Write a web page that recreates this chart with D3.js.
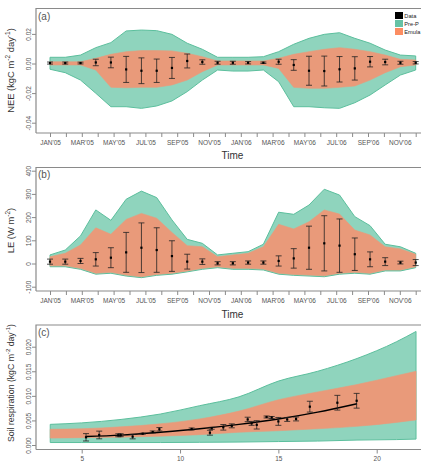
<!DOCTYPE html>
<html><head><meta charset="utf-8">
<script src="https://cdn.jsdelivr.net/npm/d3@7"></script>
<style>
html,body{margin:0;padding:0;background:#fff;}
svg{display:block;font-family:"Liberation Sans",Arial,sans-serif;}
</style></head>
<body>
<svg id="c" width="421" height="465"></svg>
<script>
// ---------- DATA ----------
// month tick labels (Jan'05 .. Dec'06)
const monthTicks = ["JAN'05","","MAR'05","","MAY'05","","JUL'05","","SEP'05","","NOV'05","",
                    "JAN'06","","MAR'06","","MAY'06","","JUL'06","","SEP'06","","NOV'06",""];
// observation times, in months since Jan'05
const obsTime = [0,0.96,1.92,2.88,3.83,4.79,5.75,6.71,7.67,8.63,9.58,10.54,11.5,12.46,13.42,14.38,15.33,16.29,17.25,18.21,19.17,20.13,21.08,22.04,23.0];

// (a) NEE
const neeObs = [0.0003,0.0003,0.0003,0.0007,0.0007,-0.004,-0.0049,-0.0049,-0.003,0.0017,0.001,0.0005,0.0005,0.0005,0.0005,0.0012,-0.001,-0.0049,-0.0051,-0.0039,-0.0033,0.0012,0.001,0.0005,0.0005];
const neeErr = [0.0007,0.0007,0.0006,0.0022,0.0036,0.0088,0.0087,0.0079,0.0071,0.0047,0.0015,0.001,0.001,0.0008,0.0005,0.0017,0.0036,0.0098,0.0101,0.0086,0.0079,0.0035,0.0019,0.001,0.0008];
const neePreHi = [0.0042,0.0042,0.0057,0.0107,0.0141,0.022,0.0226,0.0222,0.0197,0.0137,0.0096,0.0042,0.0042,0.0042,0.0046,0.008,0.013,0.017,0.0197,0.0208,0.017,0.0137,0.0091,0.0057,0.0051];
const neePreLo = [-0.0039,-0.0062,-0.0112,-0.0201,-0.0292,-0.0292,-0.0303,-0.0287,-0.0253,-0.019,-0.0112,-0.0044,-0.0051,-0.0051,-0.0044,-0.0123,-0.0292,-0.0292,-0.0299,-0.0303,-0.0265,-0.0213,-0.0145,-0.0078,-0.0044];
const neeEmuHi = [0.0012,0.0012,0.0012,0.0035,0.0062,0.008,0.0087,0.0087,0.0085,0.0069,0.0046,0.0017,0.0017,0.0017,0.0017,0.0035,0.0062,0.008,0.0096,0.0107,0.0096,0.008,0.0057,0.0028,0.0024];
const neeEmuLo = [-0.001,-0.001,-0.001,-0.0044,-0.0161,-0.0164,-0.0161,-0.0161,-0.0145,-0.0112,-0.0055,-0.001,-0.001,-0.001,-0.001,-0.0033,-0.0161,-0.0168,-0.0168,-0.0161,-0.0152,-0.0112,-0.0062,-0.0022,-0.001];
const neeYTicks = [-0.04,-0.02,0,0.02];
const neeYLabels = ["-0.04","-0.02","0.00","0.02"];

// (b) LE
const leObs = [8,8,11,18,25,48,68,58,32,8,8,1,1,4,4,11,22,68,87,77,40,18,8,4,4];
const leErr = [11,11,11,29,43,86,107,96,66,32,12,7,7,7,7,22,42,93,119,115,70,32,17,6,13];
const lePreHi = [37,58,119,231,186,277,312,284,188,104,87,37,44,51,83,221,212,252,320,295,202,163,83,72,44];
const lePreLo = [-14,-14,-25,-46,-42,-54,-61,-51,-46,-36,-25,-18,-25,-25,-28,-46,-51,-54,-57,-46,-42,-46,-32,-32,-18];
const leEmuHi = [29,44,80,154,126,190,216,195,134,77,72,29,37,44,72,169,149,180,231,213,144,123,72,63,40];
const leEmuLo = [-10,-10,-21,-42,-38,-50,-57,-47,-42,-32,-21,-14,-21,-21,-24,-42,-47,-50,-53,-42,-38,-42,-28,-28,-14];
const leYTicks = [-100,0,100,200,300,400];

// (c) Soil respiration vs temperature
const soilBandX = [3.4,5,7,9,11,13,15,17,19,21,22];
const soilPreHi = [0.0042,0.0045,0.0052,0.0063,0.0080,0.0098,0.0130,0.0150,0.0176,0.0210,0.0231];
const soilPreLo = [0.0005,0.0005,0.0005,0.0005,0.00055,0.0006,0.0007,0.0008,0.001,0.0011,0.0012];
const soilEmuHi = [0.0032,0.0033,0.0037,0.0043,0.0053,0.0069,0.0092,0.0108,0.0123,0.0141,0.0150];
const soilEmuLo = [0.0014,0.0015,0.0016,0.0018,0.0021,0.0026,0.0029,0.0033,0.0038,0.0046,0.0051];
const soilObsX = [5.22,5.89,6.86,6.98,7.59,8.10,8.61,8.95,10.59,11.52,11.61,12.2,12.63,13.44,13.64,13.9,14.4,14.66,15.0,15.45,15.9,16.6,18.0,18.98];
const soilObsY = [0.00157,0.00204,0.00198,0.0020,0.0017,0.0023,0.00265,0.0032,0.00326,0.0025,0.0034,0.0036,0.0039,0.0052,0.0044,0.0041,0.0057,0.0056,0.0048,0.0052,0.0053,0.0078,0.0086,0.009];
const soilObsErr = [0.00075,0.00078,0.0003,0.0003,0.00045,0.0001,0.0002,0.00035,0.0002,0.0005,0.0002,0.00057,0.0004,0.00045,0.0004,0.00085,0.0002,0.0002,0.0008,0.0004,0.0004,0.0011,0.0015,0.0015];
const soilFitX = [5.2,7,9,11,13,15,17,19];
const soilFitY = [0.00172,0.0020,0.0026,0.0033,0.0042,0.0053,0.0067,0.0084];
const soilXTicks = [5,10,15,20];
const soilYTicks = [0,0.005,0.01,0.015,0.02];
const soilYLabels = ["0.000","0.005","0.010","0.015","0.020"];

const legendLabels = ["Data","Pre-P","Emula"];
const legendColors = ["#000000","#66c2a5","#fc8d62"];

// ---------- STYLE ----------
const GREEN = "#8fd4bd", GREEN_LINE = "#5cbf9d", ORANGE = "#e99a7a";
const FRAME = "#8a8a8a", TICKTXT = "#555";

const svg = d3.select("#c");

function frame(top, bottom){
  const left = 36, right = 460;
  svg.append("path").attr("d",`M${right},${top}H${left}V${bottom}`)
     .attr("fill","none").attr("stroke",FRAME).attr("stroke-width",1.2);
}
function styleAxis(g){
  g.select(".domain").attr("stroke",FRAME).attr("stroke-width",1.2);
  g.selectAll(".tick line").attr("stroke",FRAME).attr("stroke-width",1);
  g.selectAll(".tick text").attr("fill",TICKTXT).attr("font-size","6.5px")
    .attr("font-family","Liberation Sans, Arial, sans-serif");
}
function yAxis(scale, ticks, labels){
  const g = svg.append("g").attr("transform","translate(36,0)")
    .call(d3.axisLeft(scale).tickValues(ticks).tickSize(4).tickSizeOuter(0)
      .tickFormat((d,i)=>labels[i]));
  g.select(".domain").remove();
  styleAxis(g);
  g.selectAll(".tick text").attr("transform","rotate(-90)").attr("x",0).attr("y",-5)
    .attr("dy",0).attr("text-anchor","middle");
}
function xAxis(scale, y, ticks, fmt, pad){
  const g = svg.append("g").attr("transform",`translate(0,${y})`)
    .call(d3.axisBottom(scale).tickValues(ticks).tickSize(4).tickSizeOuter(0).tickFormat(fmt));
  g.select(".domain").attr("d",`M36,0H460`);
  styleAxis(g);
  g.selectAll(".tick text").attr("y",pad);
}
function yTitle(parts, cy, size){
  const t = svg.append("text").attr("transform",`translate(13.5,${cy}) rotate(-90)`)
    .attr("text-anchor","middle").attr("font-size",size+"px").attr("fill","#333");
  parts.forEach(p=>{
    const ts = t.append("tspan").text(p.t);
    if(p.sup){ ts.attr("font-size",(size*0.7)+"px").attr("dy",-size*0.4); }
    else if(p.after){ ts.attr("dy",size*0.4); }
  });
}
function panelTag(txt, y){
  svg.append("text").attr("x",38).attr("y",y).attr("font-size","10px").attr("fill","#555").text(txt);
}
function bands(x, xs, preHi, preLo, emuHi, emuLo, y, curve){
  const areaG = d3.area().x((d,i)=>x(xs[i])).y0((d,i)=>y(preLo[i])).y1((d,i)=>y(preHi[i])).curve(curve);
  const areaO = d3.area().x((d,i)=>x(xs[i])).y0((d,i)=>y(emuLo[i])).y1((d,i)=>y(emuHi[i])).curve(curve);
  svg.append("path").datum(xs).attr("d",areaG).attr("fill",GREEN).attr("stroke",GREEN_LINE).attr("stroke-width",1);
  svg.append("path").datum(xs).attr("d",areaO).attr("fill",ORANGE).attr("stroke",ORANGE).attr("stroke-width",0.6);
}
function errorBars(x, y, xs, ys, es, cap){
  const g = svg.append("g");
  xs.forEach((xv,i)=>{
    const cx = x(xv), lo = y(ys[i]-es[i]), hi = y(ys[i]+es[i]);
    g.append("line").attr("x1",cx).attr("x2",cx).attr("y1",lo).attr("y2",hi).attr("stroke","#222").attr("stroke-width",0.8);
    g.append("line").attr("x1",cx-cap).attr("x2",cx+cap).attr("y1",lo).attr("y2",lo).attr("stroke","#222").attr("stroke-width",0.8);
    g.append("line").attr("x1",cx-cap).attr("x2",cx+cap).attr("y1",hi).attr("y2",hi).attr("stroke","#222").attr("stroke-width",0.8);
    g.append("rect").attr("x",cx-1.1).attr("y",y(ys[i])-1.1).attr("width",2.2).attr("height",2.2).attr("fill","#000");
  });
}

// ---------- PANEL A ----------
const xM = d3.scaleLinear().domain([0,23]).range([50,415.7]);
const yA = d3.scaleLinear().domain([0,0.02]).range([63.5,33.9]);
bands(xM, obsTime, neePreHi, neePreLo, neeEmuHi, neeEmuLo, yA, d3.curveLinear);
errorBars(xM, yA, obsTime, neeObs, neeErr, 3);
frame(8.5,133);
yAxis(yA, neeYTicks, neeYLabels);
xAxis(xM, 133, d3.range(24), (d,i)=>monthTicks[i], 7);
svg.append("text").attr("x",232.5).attr("y",159).attr("text-anchor","middle").attr("font-size","10px").attr("fill","#333").text("Time");
yTitle([{t:"NEE (kgC m"},{t:"-2",sup:true},{t:" day",after:true},{t:"-1",sup:true},{t:")",after:true}], 70.5, 9.4);
panelTag("(a)", 19.5);
// legend
legendLabels.forEach((l,i)=>{
  svg.append("rect").attr("x",395).attr("y",12+i*8).attr("width",8).attr("height",7).attr("fill",legendColors[i]);
  svg.append("text").attr("x",404.3).attr("y",18+i*8).attr("font-size","5.7px").attr("fill","#222").text(l);
});

// ---------- PANEL B ----------
const yB = d3.scaleLinear().domain([0,100]).range([263.5,240.3]);
bands(xM, obsTime, lePreHi, lePreLo, leEmuHi, leEmuLo, yB, d3.curveLinear);
errorBars(xM, yB, obsTime, leObs, leErr, 3);
frame(167.5,291);
yAxis(yB, leYTicks, leYTicks.map(String));
xAxis(xM, 291, d3.range(24), (d,i)=>monthTicks[i], 7);
svg.append("text").attr("x",232.5).attr("y",318).attr("text-anchor","middle").attr("font-size","10px").attr("fill","#333").text("Time");
yTitle([{t:"LE (W m"},{t:"-2",sup:true},{t:")",after:true}], 230.5, 9.4);
panelTag("(b)", 178);

// ---------- PANEL C ----------
const xC = d3.scaleLinear().domain([5,20]).range([81.7,376.7]);
const yC = d3.scaleLinear().domain([0,0.02]).range([445,346.7]);
bands(xC, soilBandX, soilPreHi, soilPreLo, soilEmuHi, soilEmuLo, yC, d3.curveMonotoneX);
svg.append("path").datum(soilFitX).attr("fill","none").attr("stroke","#000").attr("stroke-width",1.4)
  .attr("d", d3.line().x((d,i)=>xC(soilFitX[i])).y((d,i)=>yC(soilFitY[i])).curve(d3.curveMonotoneX));
errorBars(xC, yC, soilObsX, soilObsY, soilObsErr, 3);
frame(325,449.5);
yAxis(yC, soilYTicks, soilYLabels);
xAxis(xC, 449.5, soilXTicks, d3.format("d"), 6.5);
yTitle([{t:"Soil respiration (kgC m"},{t:"-2",sup:true},{t:" day",after:true},{t:"-1",sup:true},{t:")",after:true}], 383, 8.7);
panelTag("(c)", 336);
</script>
</body></html>
